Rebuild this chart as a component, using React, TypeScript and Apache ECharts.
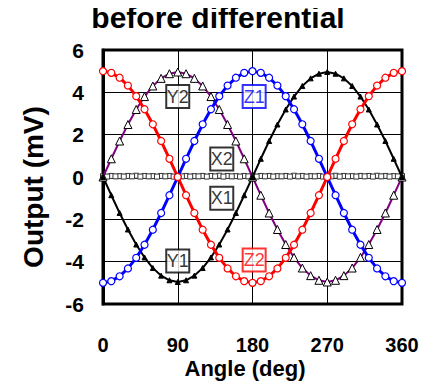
import React, { useEffect, useRef } from "react";
import * as echarts from "echarts";

const angles = [0, 10, 20, 30, 40, 50, 60, 70, 80, 90, 100, 110, 120, 130, 140, 150, 160, 170, 180, 190, 200, 210, 220, 230, 240, 250, 260, 270, 280, 290, 300, 310, 320, 330, 340, 350, 360];
const xAnglesB = [5, 15, 25, 35, 45, 55, 65, 75, 85, 95, 105, 115, 125, 135, 145, 155, 165, 175, 185, 195, 205, 215, 225, 235, 245, 255, 265, 275, 285, 295, 305, 315, 325, 335, 345, 355];

const y2Values = [0.0, 0.86, 1.7, 2.48, 3.19, 3.8, 4.3, 4.66, 4.88, 4.96, 4.88, 4.66, 4.3, 3.8, 3.19, 2.48, 1.7, 0.86, 0.0, -0.86, -1.7, -2.48, -3.19, -3.8, -4.3, -4.66, -4.88, -4.96, -4.88, -4.66, -4.3, -3.8, -3.19, -2.48, -1.7, -0.86, 0.0];
const y1Values = [0.0, -0.86, -1.7, -2.48, -3.19, -3.8, -4.3, -4.66, -4.88, -4.96, -4.88, -4.66, -4.3, -3.8, -3.19, -2.48, -1.7, -0.86, 0.0, 0.86, 1.7, 2.48, 3.19, 3.8, 4.3, 4.66, 4.88, 4.96, 4.88, 4.66, 4.3, 3.8, 3.19, 2.48, 1.7, 0.86, 0.0];
const z2Values = [5.0, 4.92, 4.69, 4.32, 3.82, 3.2, 2.49, 1.7, 0.86, 0.0, -0.86, -1.7, -2.49, -3.2, -3.82, -4.32, -4.69, -4.92, -5.0, -4.92, -4.69, -4.32, -3.82, -3.2, -2.49, -1.7, -0.86, 0.0, 0.86, 1.7, 2.49, 3.2, 3.82, 4.32, 4.69, 4.92, 5.0];
const z1Values = [-5.0, -4.92, -4.69, -4.32, -3.82, -3.2, -2.49, -1.7, -0.86, 0.0, 0.86, 1.7, 2.49, 3.2, 3.82, 4.32, 4.69, 4.92, 5.0, 4.92, 4.69, 4.32, 3.82, 3.2, 2.49, 1.7, 0.86, 0.0, -0.86, -1.7, -2.49, -3.2, -3.82, -4.32, -4.69, -4.92, -5.0];
const x2Values = [0.04, 0.05, 0.04, 0.05, 0.06, 0.05, 0.04, 0.05, 0.05, 0.06, 0.05, 0.04, 0.05, 0.05, 0.06, 0.05, 0.04, 0.05, 0.06, 0.05, 0.05, 0.04, 0.05, 0.06, 0.05, 0.04, 0.05, 0.05, 0.06, 0.05, 0.04, 0.05, 0.05, 0.06, 0.05, 0.04, 0.05];
const x1Values = [0.02, 0.03, 0.02, 0.03, 0.02, 0.03, 0.02, 0.03, 0.02, 0.03, 0.02, 0.03, 0.02, 0.03, 0.02, 0.03, 0.02, 0.03, 0.02, 0.03, 0.02, 0.03, 0.02, 0.03, 0.02, 0.03, 0.02, 0.03, 0.02, 0.03, 0.02, 0.03, 0.02, 0.03, 0.02, 0.03];

const labelNames = ["Y2", "Z1", "X2", "X1", "Y1", "Z2"];
const labelAngles = [90, 182, 143, 143, 90, 182];
const labelValues = [3.8, 3.8, 0.85, -1.0, -3.97, -3.92];
const labelColors = ["#000000", "#0000ff", "#000000", "#000000", "#000000", "#ff0000"];

const titleText = "before differential";
const xName = "Angle (deg)";
const yName = "Output (mV)";

const FONT = "'Liberation Sans', Arial, sans-serif";

function pairs(xs: number[], ys: number[]) {
  return xs.map((x, i) => [x, ys[i]]);
}

export default function App() {
  const ref = useRef<HTMLDivElement>(null);
  useEffect(() => {
    if (!ref.current) return;
    const chart = echarts.init(ref.current, undefined, { renderer: "svg" });
    chart.setOption({
      animation: false,
      backgroundColor: "#ffffff",
      graphic: [
        {
          type: "rect",
          shape: { x: 58, y: 0, width: 307, height: 2 },
          style: {
            fill: new echarts.graphic.LinearGradient(0, 0, 1, 0, [
              { offset: 0, color: "#9a9a9a" },
              { offset: 0.5, color: "#777777" },
              { offset: 1, color: "#c8c8c8" },
            ]),
          },
        },
        {
          type: "text",
          x: 218,
          y: 17,
          style: {
            text: titleText,
            fontFamily: FONT,
            fontWeight: "bold",
            fontSize: 30,
            fill: "#000",
            textAlign: "center",
            textVerticalAlign: "middle",
          },
        },
        {
          type: "text",
          x: 33,
          y: 187,
          rotation: Math.PI / 2,
          style: {
            text: yName,
            fontFamily: FONT,
            fontWeight: "bold",
            fontSize: 28,
            fill: "#000",
            textAlign: "center",
            textVerticalAlign: "middle",
          },
        },
        {
          type: "text",
          x: 245,
          y: 368,
          style: {
            text: xName,
            fontFamily: FONT,
            fontWeight: "bold",
            fontSize: 22,
            fill: "#000",
            textAlign: "center",
            textVerticalAlign: "middle",
          },
        },
      ],
      grid: {
        left: 103,
        right: 26,
        top: 50,
        bottom: 86,
        show: true,
        borderColor: "#000",
        borderWidth: 3,
        backgroundColor: "transparent",
      },
      xAxis: {
        type: "value",
        min: 0,
        max: 360,
        interval: 90,
        axisLine: { show: true, lineStyle: { color: "#000", width: 3 } },
        axisTick: { show: false },
        axisLabel: { margin: 31, fontFamily: FONT, fontWeight: "bold", fontSize: 20, color: "#000" },
        splitLine: { show: true, lineStyle: { color: "#000", width: 1 } },
      },
      yAxis: {
        type: "value",
        min: -6,
        max: 6,
        interval: 2,
        axisLine: { show: true, lineStyle: { color: "#000", width: 3 } },
        axisTick: { show: false },
        axisLabel: { margin: 19, fontFamily: FONT, fontWeight: "bold", fontSize: 21, color: "#000" },
        splitLine: { show: true, lineStyle: { color: "#000", width: 1 } },
      },
      series: [
        {
          name: "X2",
          type: "line",
          data: pairs(angles, x2Values),
          symbol: "rect",
          symbolSize: 5,
          lineStyle: { color: "#333", width: 1.5 },
          itemStyle: { color: "#fff", borderColor: "#333", borderWidth: 1 },
          z: 2,
        },
        {
          name: "X1",
          type: "line",
          data: pairs(xAnglesB, x1Values),
          symbol: "rect",
          symbolSize: 5,
          lineStyle: { color: "#444", width: 1.5 },
          itemStyle: { color: "#fff", borderColor: "#333", borderWidth: 1 },
          z: 2,
        },
        {
          name: "Y2",
          type: "line",
          data: pairs(angles, y2Values),
          symbol: "triangle",
          symbolSize: 8,
          lineStyle: { color: "#800080", width: 2 },
          itemStyle: { color: "#fff", borderColor: "#000", borderWidth: 1 },
          z: 3,
        },
        {
          name: "Y1",
          type: "line",
          data: pairs(angles, y1Values),
          symbol: "triangle",
          symbolSize: 5,
          lineStyle: { color: "#000", width: 2 },
          itemStyle: { color: "#000", borderColor: "#000", borderWidth: 1 },
          z: 3,
        },
        {
          name: "Z1",
          type: "line",
          data: pairs(angles, z1Values),
          symbol: "circle",
          symbolSize: 7,
          lineStyle: { color: "#0000ff", width: 3 },
          itemStyle: { color: "#fff", borderColor: "#0000ff", borderWidth: 1.2 },
          z: 4,
        },
        {
          name: "Z2",
          type: "line",
          data: pairs(angles, z2Values),
          symbol: "circle",
          symbolSize: 7,
          lineStyle: { color: "#ff0000", width: 3 },
          itemStyle: { color: "#fff", borderColor: "#ff0000", borderWidth: 1.2 },
          z: 4,
        },
        {
          name: "labels",
          type: "scatter",
          symbol: "rect",
          symbolSize: [23, 23],
          z: 10,
          data: labelNames.map((n, i) => ({
            value: [labelAngles[i], labelValues[i]],
            itemStyle: { color: "#fff", borderColor: labelColors[i], borderWidth: 2 },
            label: {
              show: true,
              position: "inside",
              formatter: n,
              color: labelColors[i],
              fontFamily: FONT,
              fontSize: 18,
            },
          })),
        },
      ],
    });
    return () => chart.dispose();
  }, []);
  return <div ref={ref} style={{ width: 428, height: 390, margin: -8 }} />;
}
